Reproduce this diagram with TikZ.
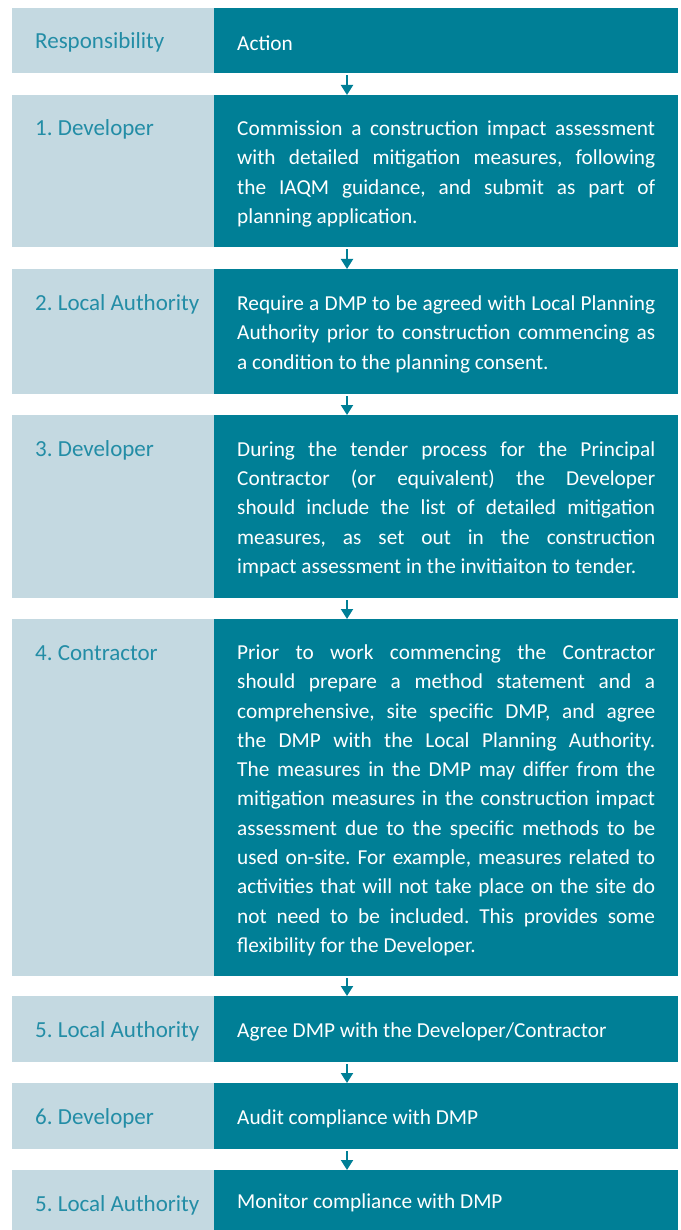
\documentclass[tikz,border=0pt]{standalone}
\usepackage{fontspec}
\setmainfont{Carlito}
\usepackage{tikz}
\usetikzlibrary{arrows.meta}
\frenchspacing
\definecolor{actteal}{RGB}{0,127,150}
\definecolor{resplight}{RGB}{196,217,225}
\definecolor{resptext}{RGB}{35,141,166}
\tikzstyle{resp}=[rectangle,fill=resplight,anchor=north west,minimum width=202pt,inner sep=0pt]
\tikzstyle{act}=[rectangle,fill=actteal,anchor=north west,text width=418pt,inner xsep=23pt,inner ysep=0pt,align=justify,text=white,font=\fontsize{21.3}{29.3}\selectfont,execute at begin node={\rule{0pt}{20pt}}]
\tikzstyle{who}=[anchor=base west,inner sep=0pt,text=resptext,font=\fontsize{23}{28}\selectfont]
\tikzstyle{nxt}=[actteal,line width=2pt,shorten <=2pt,-{Triangle[length=10pt,width=12pt]}]

\begin{document}
\begin{tikzpicture}[x=1pt,y=-1pt]
            \useasboundingbox (0,0) rectangle (680,1230);

            \node[resp,minimum height=65pt] (r0) at (12,8) {};
            \node[act,minimum height=65pt] (a0) at (214,8) {Action};
            \node[who] (w0) at ([xshift=23pt,yshift=-41pt]r0.north west) {Responsibility};

            \node[resp,minimum height=152pt] (r1) at (12,95) {};
            \node[act,minimum height=152pt] (a1) at (214,95) {Commission a construction impact assessment\linebreak with detailed mitigation measures, following\linebreak the IAQM guidance, and submit as part of\linebreak planning application.};
            \node[who] (w1) at ([xshift=23pt,yshift=-41pt]r1.north west) {1. Developer};

            \node[resp,minimum height=125pt] (r2) at (12,269) {};
            \node[act,minimum height=125pt] (a2) at (214,269) {Require a DMP to be agreed with Local Planning\linebreak Authority prior to construction commencing as\linebreak a condition to the planning consent.};
            \node[who] (w2) at ([xshift=23pt,yshift=-41pt]r2.north west) {2. Local Authority};

            \node[resp,minimum height=183pt] (r3) at (12,415) {};
            \node[act,minimum height=183pt] (a3) at (214,415) {During the tender process for the Principal\linebreak Contractor (or equivalent) the Developer\linebreak should include the list of detailed mitigation\linebreak measures, as set out in the construction\linebreak impact assessment in the invitiaiton to tender.};
            \node[who] (w3) at ([xshift=23pt,yshift=-41pt]r3.north west) {3. Developer};

            \node[resp,minimum height=357pt] (r4) at (12,619) {};
            \node[act,minimum height=357pt] (a4) at (214,619) {Prior to work commencing the Contractor\linebreak should prepare a method statement and a\linebreak comprehensive, site specific DMP, and agree\linebreak the DMP with the Local Planning Authority.\linebreak The measures in the DMP may differ from the\linebreak mitigation measures in the construction impact\linebreak assessment due to the specific methods to be\linebreak used on-site. For example, measures related to\linebreak activities that will not take place on the site do\linebreak not need to be included. This provides some\linebreak flexibility for the Developer.};
            \node[who] (w4) at ([xshift=23pt,yshift=-41pt]r4.north west) {4. Contractor};

            \node[resp,minimum height=66pt] (r5) at (12,996) {};
            \node[act,minimum height=66pt] (a5) at (214,996) {Agree DMP with the Developer/Contractor};
            \node[who] (w5) at ([xshift=23pt,yshift=-41pt]r5.north west) {5. Local Authority};

            \node[resp,minimum height=66pt] (r6) at (12,1083) {};
            \node[act,minimum height=66pt] (a6) at (214,1083) {Audit compliance with DMP};
            \node[who] (w6) at ([xshift=23pt,yshift=-41pt]r6.north west) {6. Developer};

            \node[resp,minimum height=60pt] (r7) at (12,1170) {};
            \node[act,minimum height=60pt] (a7) at (214,1170) {Monitor compliance with DMP};
            \node[who] (w7) at ([xshift=23pt,yshift=-41pt]r7.north west) {5. Local Authority};

            \draw[nxt] ([xshift=133pt]a0.south west) -- ([xshift=133pt]a1.north west);
            \draw[nxt] ([xshift=133pt]a1.south west) -- ([xshift=133pt]a2.north west);
            \draw[nxt] ([xshift=133pt]a2.south west) -- ([xshift=133pt]a3.north west);
            \draw[nxt] ([xshift=133pt]a3.south west) -- ([xshift=133pt]a4.north west);
            \draw[nxt] ([xshift=133pt]a4.south west) -- ([xshift=133pt]a5.north west);
            \draw[nxt] ([xshift=133pt]a5.south west) -- ([xshift=133pt]a6.north west);
            \draw[nxt] ([xshift=133pt]a6.south west) -- ([xshift=133pt]a7.north west);

        \end{tikzpicture}
\end{document}
